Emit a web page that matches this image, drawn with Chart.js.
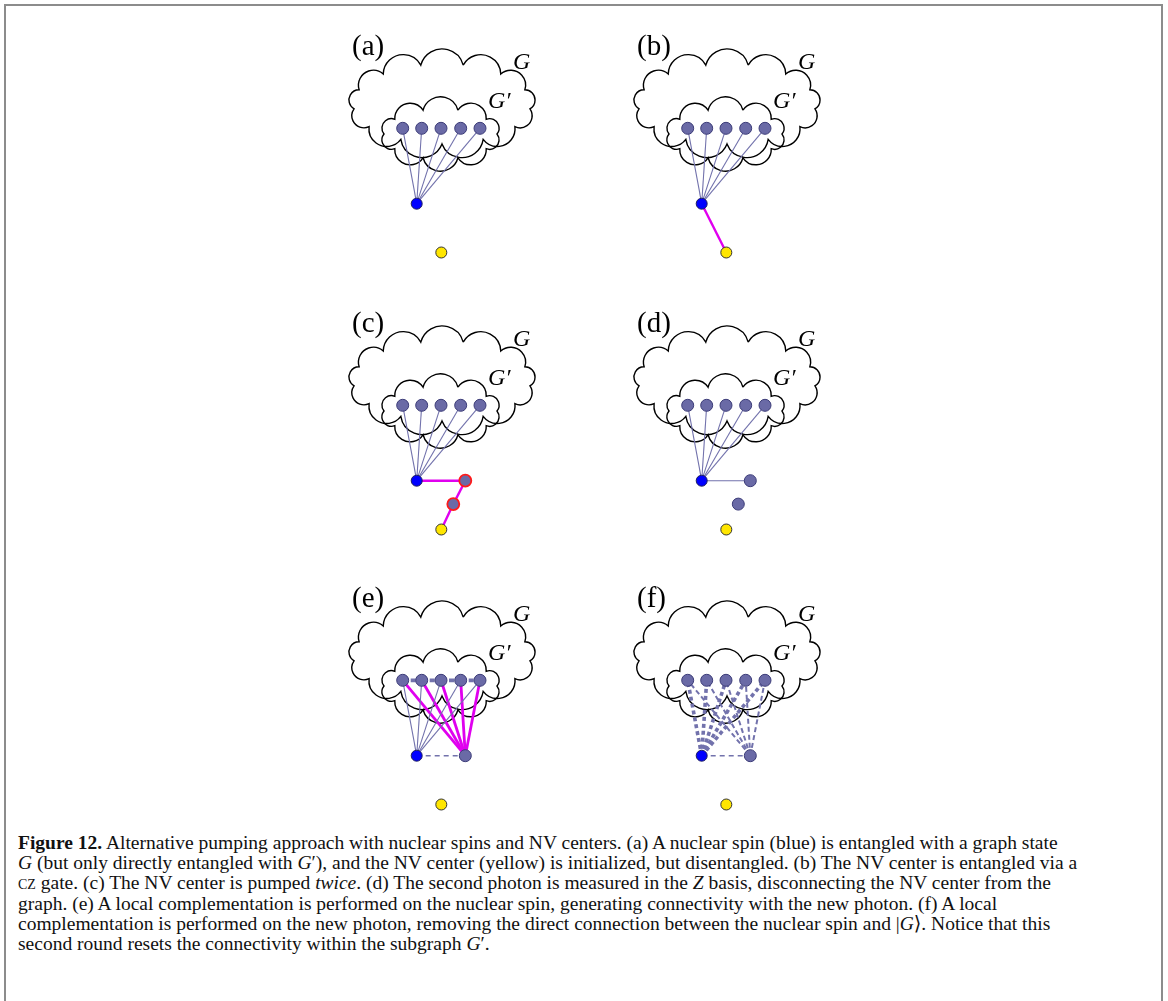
<!DOCTYPE html>
<html lang="en">
<head>
<meta charset="UTF-8">
<title>Figure 12 - pumping with nuclear spins</title>
<script src="https://cdn.jsdelivr.net/npm/chart.js"></script>
<style>
  * { box-sizing: border-box; margin: 0; padding: 0; }
  body { background: #fff; width: 1168px; height: 1001px; overflow: hidden; position: relative; font-family: 'Liberation Serif', 'DejaVu Serif', serif; }
  .frame { position: absolute; left: 4px; top: 4px; width: 1159px; height: 1100px; border: 2px solid #8c8c8c; border-bottom: none; }
  .plot { position: absolute; left: 0; top: 0; width: 1168px; height: 830px; }
  .caption { position: absolute; left: 18px; top: 833px; font-size: 19.5px; line-height: 20.2px; color: #111; white-space: nowrap; }
  .sc { font-variant: small-caps; }
</style>
</head>
<body>
<div class="frame"></div>
<div class="plot"><canvas id="chart"></canvas></div>
<div class="caption">
  <b>Figure 12.</b> Alternative pumping approach with nuclear spins and NV centers. (a) A nuclear spin (blue) is entangled with a graph state<br>
  <i>G</i> (but only directly entangled with <i>G</i>&prime;), and the NV center (yellow) is initialized, but disentangled. (b) The NV center is entangled via a<br>
  <span class="sc">cz</span> gate. (c) The NV center is pumped <i>twice</i>. (d) The second photon is measured in the <i>Z</i> basis, disconnecting the NV center from the<br>
  graph. (e) A local complementation is performed on the nuclear spin, generating connectivity with the new photon. (f) A local<br>
  complementation is performed on the new photon, removing the direct connection between the nuclear spin and |<i>G</i>&rang;. Notice that this<br>
  second round resets the connectivity within the subgraph <i>G</i>&prime;.
</div>
<script>
// panels (a)-(f): offset of each panel from panel (a), page pixels
const panelLabels = ['(a)', '(b)', '(c)', '(d)', '(e)', '(f)'];
const panelDX = [0, 285, 0, 285, 0, 285];
const panelDY = [0, 0, 277, 277, 552, 552];

// node positions as read in panel (a)
const subX = [402.7, 421.7, 441, 460.7, 480];   // the five G' nodes
const subY = [128.3, 128.3, 128.3, 128.3, 128.3];
const spinXY = [416.7, 203.7];                   // nuclear spin
const nvXY = [441.3, 252.5];                     // NV center
const photon1XY = [465.3, 203.7];
const photon2XY = [453.3, 227.1];

// extra photons shown per panel, and which panel rings them red
const panelPhotons = [[], [], ['p1', 'p2'], ['p1', 'p2'], ['p1'], ['p1']];
const redPhotons = [false, false, true, false, false, false];

// edge lists, [from, to, style]
const fan = (from, style) => subX.map((_, i) => [from, 's' + i, style]);
const chain = style => [['s0', 's1', style], ['s1', 's2', style], ['s2', 's3', style], ['s3', 's4', style]];
const panelEdges = [
  fan('spin', 'thin'),
  [...fan('spin', 'thin'), ['spin', 'nv', 'pink']],
  [...fan('spin', 'thin'), ['spin', 'p1', 'pink'], ['p1', 'p2', 'pink'], ['p2', 'nv', 'pink']],
  [...fan('spin', 'thin'), ['spin', 'p1', 'thin']],
  [...fan('spin', 'thin'), ...chain('chainDash'), ...fan('p1', 'pinkThick'), ['spin', 'p1', 'thinDash']],
  [...fan('spin', 'fanDash'), ...fan('p1', 'midDash'), ['spin', 'p1', 'thinDash']]
];

const SLATE = '#7272ac';
const MAGENTA = '#e000ef';
const edgeStyles = {
  thin:      { color: SLATE, width: 1.1, dash: [] },
  pink:      { color: MAGENTA, width: 2.4, dash: [] },
  pinkThick: { color: MAGENTA, width: 2.8, dash: [] },
  thinDash:  { color: SLATE, width: 1.4, dash: [5, 4] },
  chainDash: { color: SLATE, width: 3.8, dash: [5, 3] },
  fanDash:   { color: SLATE, width: 3.6, dash: [4, 3] },
  midDash:   { color: SLATE, width: 2, dash: [5, 3] }
};

// cloud outlines G and G' (panel (a) frame)
const cloudShapes = [
  { cx: 442, cy: 104, rx: 88.6, ry: 40, puffs: 13 },
  { cx: 440.5, cy: 134, rx: 56.5, ry: 25, puffs: 10 }
];
const PUFF_ARC = 150;

function nodePos(name, p) {
  let xy;
  if (name[0] === 's' && name !== 'spin') xy = [subX[+name.slice(1)], subY[+name.slice(1)]];
  else if (name === 'spin') xy = spinXY;
  else if (name === 'nv') xy = nvXY;
  else if (name === 'p1') xy = photon1XY;
  else xy = photon2XY;
  return { x: xy[0] + panelDX[p], y: xy[1] + panelDY[p] };
}

const datasets = [];
panelLabels.forEach((_, p) => {
  datasets.push({
    data: subX.map((_, i) => nodePos('s' + i, p)),
    pointRadius: 6, pointBackgroundColor: '#6a6aa6', pointBorderColor: '#3c3c78', pointBorderWidth: 1, order: 0
  });
  panelPhotons[p].forEach(ph => {
    datasets.push({
      data: [nodePos(ph, p)],
      pointRadius: 6, pointBackgroundColor: '#6a6aa6',
      pointBorderColor: redPhotons[p] ? '#ff1a1a' : '#3c3c78', pointBorderWidth: redPhotons[p] ? 1.8 : 1, order: 0
    });
  });
  datasets.push({
    data: [nodePos('spin', p)],
    pointRadius: 5.5, pointBackgroundColor: '#0000ff', pointBorderColor: '#1c1c5c', pointBorderWidth: 1, order: 0
  });
  datasets.push({
    data: [nodePos('nv', p)],
    pointRadius: 5.5, pointBackgroundColor: '#ffe600', pointBorderColor: '#333', pointBorderWidth: 1, order: 0
  });
  panelEdges[p].forEach(([a, b, s]) => {
    const st = edgeStyles[s];
    datasets.push({
      data: [nodePos(a, p), nodePos(b, p)],
      showLine: true, pointRadius: 0, borderColor: st.color, borderWidth: st.width,
      borderDash: st.dash, order: 1
    });
  });
});

function drawCloud(ctx, sx, sy, c) {
  const n = c.puffs, step = Math.PI * 2 / n, rot = -Math.PI / 2 + step / 2;
  const alpha = PUFF_ARC * Math.PI / 180;
  const pts = [];
  for (let k = 0; k <= n; k++) {
    const t = rot + k * step;
    pts.push([sx.getPixelForValue(c.cx + c.rx * Math.cos(t)), sy.getPixelForValue(c.cy + c.ry * Math.sin(t))]);
  }
  const ox = sx.getPixelForValue(c.cx), oy = sy.getPixelForValue(c.cy);
  const norm = a => ((a % (2 * Math.PI)) + 2 * Math.PI) % (2 * Math.PI);
  ctx.beginPath();
  for (let k = 0; k < n; k++) {
    const [ax, ay] = pts[k], [bx, by] = pts[k + 1];
    const dx = bx - ax, dy = by - ay, len = Math.hypot(dx, dy);
    const mx = (ax + bx) / 2, my = (ay + by) / 2;
    let nx = -dy / len, ny = dx / len;
    if (nx * (mx - ox) + ny * (my - oy) < 0) { nx = -nx; ny = -ny; }
    const r = (len / 2) / Math.sin(alpha / 2);
    const back = (len / 2) / Math.tan(alpha / 2);
    const ccx = mx - nx * back, ccy = my - ny * back;
    const a1 = Math.atan2(ay - ccy, ax - ccx), a2 = Math.atan2(by - ccy, bx - ccx);
    const am = Math.atan2(ny, nx);
    const cw = norm(am - a1) < norm(a2 - a1);
    ctx.arc(ccx, ccy, r, a1, a2, !cw);
  }
  ctx.stroke();
}

const cloudPlugin = {
  id: 'clouds',
  beforeDatasetsDraw(chart) {
    const { ctx, scales: { x, y } } = chart;
    ctx.save();
    ctx.strokeStyle = '#000';
    ctx.lineWidth = 1.4;
    panelLabels.forEach((_, p) => {
      cloudShapes.forEach(c => drawCloud(ctx, x, y, { ...c, cx: c.cx + panelDX[p], cy: c.cy + panelDY[p] }));
    });
    ctx.restore();
  },
  afterDatasetsDraw(chart) {
    const { ctx, scales: { x, y } } = chart;
    ctx.save();
    ctx.fillStyle = '#000';
    ctx.textBaseline = 'alphabetic';
    panelLabels.forEach((lab, p) => {
      const dx = panelDX[p], dy = panelDY[p];
      ctx.font = '29px "Liberation Serif"';
      ctx.fillText(lab, x.getPixelForValue(352 + dx), y.getPixelForValue(55 + dy));
      ctx.font = 'italic 24px "Liberation Serif"';
      ctx.fillText('G', x.getPixelForValue(513 + dx), y.getPixelForValue(69 + dy));
      ctx.fillText('G\u2032', x.getPixelForValue(488 + dx), y.getPixelForValue(108 + dy));
    });
    ctx.restore();
  }
};

new Chart(document.getElementById('chart'), {
  type: 'scatter',
  data: { datasets },
  options: {
    responsive: true,
    maintainAspectRatio: false,
    animation: false,
    events: [],
    layout: { padding: 0, autoPadding: false },
    plugins: { legend: { display: false }, tooltip: { enabled: false } },
    scales: {
      x: { type: 'linear', display: false, min: 0, max: 1168 },
      y: { type: 'linear', display: false, min: 0, max: 830, reverse: true }
    }
  },
  plugins: [cloudPlugin]
});
</script>
</body>
</html>
